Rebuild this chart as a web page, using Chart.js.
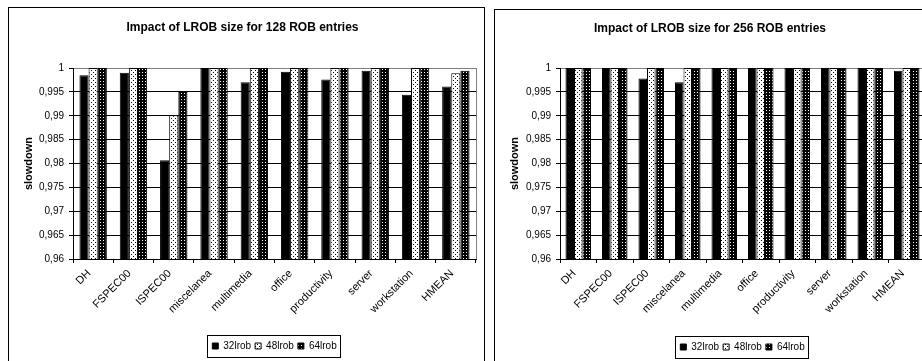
<!DOCTYPE html>
<html><head><meta charset="utf-8">
<script src="https://cdn.jsdelivr.net/npm/chart.js@4.4.1/dist/chart.umd.min.js"></script>
<style>
html,body{margin:0;padding:0;width:922px;height:361px;overflow:hidden;background:#fff;}
.frame{position:absolute;border:1px solid #000;box-sizing:border-box;background:#fff;}
.frame canvas{position:absolute;left:0;top:0;}
</style></head><body>
<div class="frame" style="left:8px;top:7px;width:477px;height:370px;"><canvas id="c1" width="475" height="368"></canvas></div>
<div class="frame" style="left:494px;top:9px;width:440px;height:370px;"><canvas id="c2" width="438" height="368"></canvas></div>
<script>
const categories = ['DH','FSPEC00','ISPEC00','miscelanea','multimedia','office','productivity','server','workstation','HMEAN'];
const seriesNames = ['32lrob','48lrob','64lrob'];
const titles = ['Impact of LROB size for 128 ROB entries','Impact of LROB size for 256 ROB entries'];
const yAxisTitle = 'slowdown';
const yTicks = [0.96,0.965,0.97,0.975,0.98,0.985,0.99,0.995,1];

// 128 ROB entries
const rob128_32 = [0.9985,0.999,0.9807,1,0.997,0.9992,0.9976,0.9994,0.9944,0.9961];
const rob128_48 = [1,1,0.9901,1,1,1,1,1,1,0.9989];
const rob128_64 = [1,1,0.995,1,1,1,1,1,1,0.9994];
// 256 ROB entries
const rob256_32 = [1,1,0.9978,0.997,1,1,1,1,1,0.9994];
const rob256_48 = [1,1,1,1,1,1,1,1,1,1];
const rob256_64 = [1,1,1,1,1,1,1,1,1,1];

const FONT = "'Liberation Sans', Arial, sans-serif";
const NARROW = "'Liberation Sans Narrow', 'Arial Narrow', 'Liberation Sans', Arial, sans-serif";

function makePattern(kind){
  const t = document.createElement('canvas');
  const c = t.getContext('2d');
  if (kind === 'dots') {
    t.width = 4; t.height = 4;
    c.fillStyle = '#fff'; c.fillRect(0,0,4,4);
    c.fillStyle = '#000'; c.fillRect(0,0,1,1); c.fillRect(2,2,1,1);
  } else {
    t.width = 3; t.height = 3;
    c.fillStyle = '#000'; c.fillRect(0,0,3,3);
    c.fillStyle = '#fff'; c.fillRect(1,1,1,1);
  }
  return document.createElement('canvas').getContext('2d').createPattern(t,'repeat');
}
const fills = ['#000', makePattern('dots'), makePattern('grid')];

const extras = {
  id: 'extras',
  beforeDatasetsDraw(chart){
    const {ctx, chartArea:a} = chart;
    ctx.save();
    ctx.strokeStyle = '#808080'; ctx.lineWidth = 1;
    ctx.beginPath();
    const x = Math.round(a.right) + 0.5;
    ctx.moveTo(x, a.top); ctx.lineTo(x, a.bottom);
    ctx.stroke();
    ctx.restore();
  },
  afterDraw(chart){
    const lg = chart.legend;
    if (!lg || !lg.legendHitBoxes || !lg.legendHitBoxes.length) return;
    const hb = lg.legendHitBoxes;
    let l = Infinity, r = -Infinity;
    hb.forEach(h => { l = Math.min(l, h.left); r = Math.max(r, h.left + h.width); });
    const cy = hb[0].top + hb[0].height/2;
    const ctx = chart.ctx;
    ctx.save();
    ctx.strokeStyle = '#000'; ctx.lineWidth = 1;
    ctx.strokeRect(Math.round(l - 5) + 0.5, Math.round(cy - 11) + 0.5, Math.round(r - l + 9), 22);
    ctx.restore();
  }
};

function build(id, title, d32, d48, d64, L){
  const data = [d32, d48, d64];
  return new Chart(document.getElementById(id), {
    type: 'bar',
    data: {
      labels: categories,
      datasets: seriesNames.map((n,i) => ({
        label: n,
        data: data[i],
        backgroundColor: fills[i],
        borderColor: '#000',
        borderWidth: 1,
        categoryPercentage: L.catPct,
        barPercentage: 1
      }))
    },
    options: {
      responsive: false,
      animation: false,
      devicePixelRatio: 1,
      layout: { padding: { left: 0, right: L.padRight, top: 0, bottom: L.padBottom } },
      plugins: {
        title: { display: true, text: title, color: '#000',
          font: { family: FONT, size: 12, weight: 'bold' },
          padding: { top: L.titleTop, bottom: L.titleBottom } },
        legend: { position: 'bottom', fullSize: false,
          labels: { color: '#000', font: { family: FONT, size: 10 }, boxWidth: 6, boxHeight: 6, padding: 4 } },
        tooltip: { enabled: false }
      },
      scales: {
        x: {
          afterFit(s){ s.height = L.xHeight; },
          grid: { offset: true, drawOnChartArea: false, drawTicks: true, tickLength: 4, color: '#000' },
          border: { display: true, color: '#000', width: 1 },
          ticks: { autoSkip: false, maxRotation: 45, minRotation: 45, color: '#000', padding: 4,
            labelOffset: -4, font: { family: FONT, size: 11 } }
        },
        y: {
          min: 0.96, max: 1,
          afterFit(s){ s.width = L.yWidth; },
          afterBuildTicks(s){ s.ticks = yTicks.map(v => ({ value: v })); },
          grid: { color: c => (c.tick && c.tick.value === 1) ? '#808080' : '#000', lineWidth: 1,
                  tickColor: '#000', tickLength: 4 },
          border: { display: true, color: '#000', width: 1 },
          ticks: { color: '#000', padding: 5, font: { family: NARROW, size: 10 },
            callback: v => String(Number(Number(v).toFixed(3))).replace('.', ',') },
          title: { display: true, text: yAxisTitle, color: '#000',
            font: { family: FONT, size: 11, weight: 'bold' }, padding: { top: 13, bottom: 0 } }
        }
      }
    },
    plugins: [extras]
  });
}

build('c1', titles[0], rob128_32, rob128_48, rob128_64,
  { catPct: 0.68, padRight: 8, padBottom: 15, titleTop: 12, titleBottom: 33.6, xHeight: 78, yWidth: 64 });
build('c2', titles[1], rob256_32, rob256_48, rob256_64,
  { catPct: 0.70, padRight: 8, padBottom: 16, titleTop: 11, titleBottom: 32.6, xHeight: 79, yWidth: 65 });
</script>
</body></html>
